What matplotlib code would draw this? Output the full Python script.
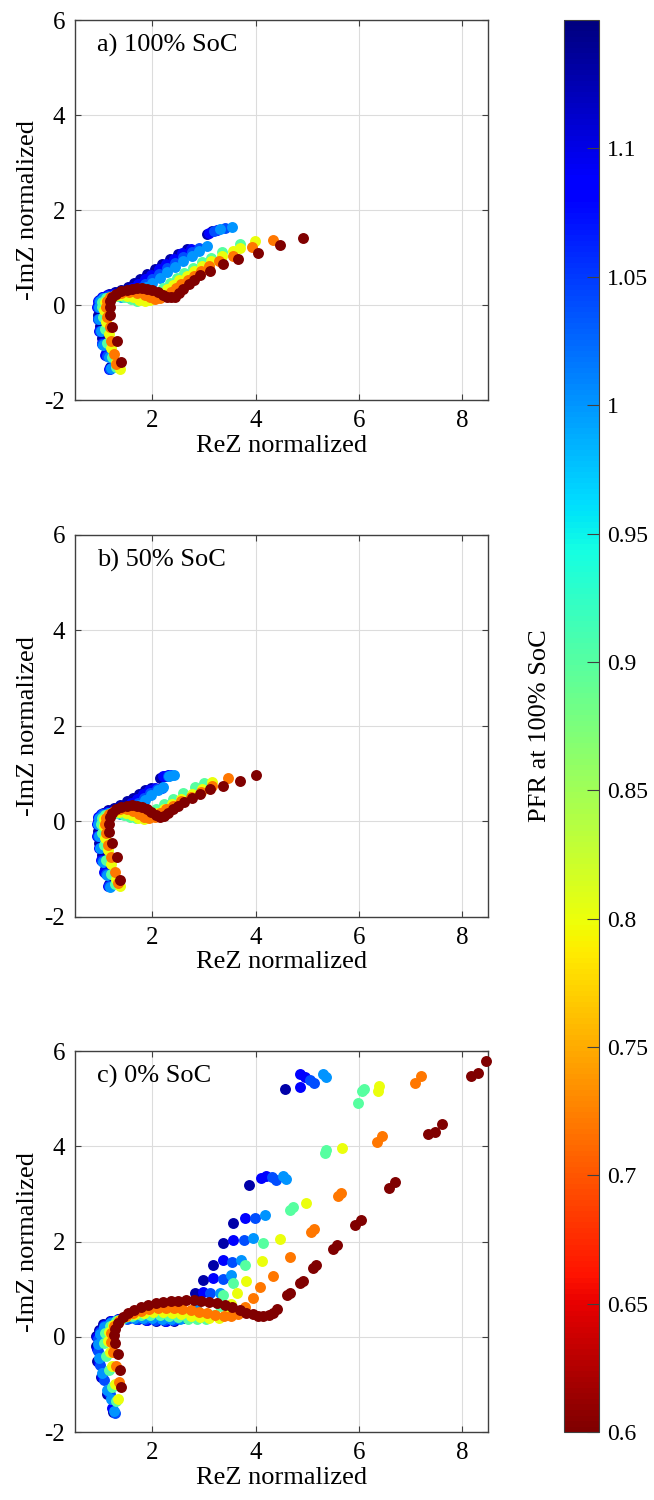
# Nyquist plots at three states of charge, coloured by PFR at 100% SoC
import numpy as np
import matplotlib
matplotlib.use("Agg")
import matplotlib.pyplot as plt
from matplotlib.colors import Normalize
from matplotlib.cm import ScalarMappable

plt.rcParams['font.family'] = ['Liberation Serif', 'DejaVu Serif']
plt.rcParams['axes.unicode_minus'] = False

# --------------------------------------------
# DATA  (ReZ normalized, -ImZ normalized)
# --------------------------------------------
pfr = [1.13, 1.08, 1.04, 1.00, 0.90, 0.80, 0.72, 0.60]
panel_titles = ["a) 100% SoC", "b) 50% SoC", "c) 0% SoC"]
cbar_ticks = [0.6, 0.65, 0.7, 0.75, 0.8, 0.85, 0.9, 0.95, 1.0, 1.05, 1.1]
cbar_labels = ["0.6", "0.65", "0.7", "0.75", "0.8", "0.85", "0.9", "0.95", "1", "1.05", "1.1"]

soc100 = [
    [(1.17,-1.30),(1.10,-1.00),(1.03,-0.70),(0.98,-0.45),(0.95,-0.20),(0.95,0.00),(0.97,0.10),(1.05,0.18),
     (1.16,0.24),(1.28,0.28),(1.40,0.32),(1.52,0.38),(1.64,0.46),(1.76,0.55),(1.90,0.65),(2.04,0.75),
     (2.18,0.86),(2.34,0.97),(2.50,1.08),(2.66,1.18),(3.05,1.50),(3.15,1.55)],
    [(1.15,-1.35),(1.08,-1.05),(1.02,-0.80),(0.97,-0.55),(0.94,-0.30),(0.93,-0.05),(0.95,0.09),(1.02,0.16),
     (1.12,0.21),(1.24,0.23),(1.36,0.24),(1.48,0.28),(1.60,0.35),(1.72,0.44),(1.85,0.54),(1.98,0.64),
     (2.12,0.75),(2.26,0.86),(2.42,0.98),(2.58,1.09),(2.74,1.19),(3.10,1.52),(3.25,1.57)],
    [(1.18,-1.34),(1.11,-1.08),(1.03,-0.82),(0.98,-0.55),(0.95,-0.30),(0.95,-0.05),(0.97,0.08),(1.04,0.15),
     (1.14,0.19),(1.26,0.21),(1.38,0.21),(1.50,0.23),(1.62,0.28),(1.74,0.36),(1.86,0.45),(1.99,0.55),
     (2.13,0.66),(2.28,0.77),(2.44,0.89),(2.60,1.01),(2.76,1.12),(2.90,1.20),(3.20,1.55),(3.40,1.62)],
    [(1.20,-1.33),(1.15,-1.10),(1.05,-0.85),(1.00,-0.55),(0.97,-0.30),(0.96,-0.05),(0.98,0.08),(1.05,0.14),
     (1.15,0.18),(1.27,0.19),(1.40,0.18),(1.52,0.17),(1.64,0.20),(1.76,0.28),(1.88,0.37),(2.00,0.47),
     (2.14,0.58),(2.28,0.69),(2.44,0.80),(2.60,0.92),(2.76,1.04),(2.90,1.14),(3.05,1.24),(3.30,1.60),(3.55,1.65)],
    [(1.30,-1.30),(1.22,-1.10),(1.12,-0.80),(1.08,-0.50),(1.04,-0.25),(1.02,-0.05),(1.03,0.07),(1.10,0.14),
     (1.20,0.18),(1.32,0.19),(1.45,0.17),(1.58,0.12),(1.70,0.09),(1.82,0.10),(1.94,0.16),(2.06,0.24),
     (2.20,0.35),(2.34,0.46),(2.48,0.57),(2.62,0.68),(2.78,0.79),(2.96,0.90),(3.14,1.00),(3.34,1.12),(3.69,1.28)],
    [(1.37,-1.34),(1.30,-1.20),(1.20,-0.90),(1.15,-0.60),(1.10,-0.35),(1.07,-0.10),(1.08,0.06),(1.15,0.14),
     (1.25,0.19),(1.38,0.21),(1.50,0.20),(1.62,0.16),(1.74,0.11),(1.86,0.08),(1.96,0.10),(2.06,0.16),
     (2.16,0.24),(2.28,0.33),(2.40,0.43),(2.52,0.52),(2.66,0.62),(2.80,0.72),(2.96,0.82),(3.14,0.93),
     (3.34,1.03),(3.56,1.13),(3.70,1.20),(3.98,1.35)],
    [(1.30,-1.25),(1.26,-1.03),(1.20,-0.75),(1.18,-0.47),(1.12,-0.25),(1.10,-0.05),(1.12,0.08),(1.18,0.16),
     (1.28,0.22),(1.40,0.26),(1.55,0.27),(1.70,0.26),(1.85,0.22),(1.95,0.17),(2.05,0.13),(2.15,0.14),
     (2.25,0.20),(2.35,0.28),(2.45,0.36),(2.56,0.44),(2.68,0.53),(2.80,0.62),(2.95,0.72),(3.10,0.82),
     (3.28,0.92),(3.56,1.03),(3.92,1.23),(4.34,1.38)],
    [(1.39,-1.20),(1.31,-0.75),(1.22,-0.47),(1.18,-0.21),(1.17,-0.05),(1.18,0.08),(1.22,0.17),(1.30,0.24),
     (1.40,0.29),(1.50,0.32),(1.60,0.34),(1.70,0.35),(1.80,0.35),(1.90,0.34),(2.00,0.31),(2.10,0.27),
     (2.20,0.22),(2.28,0.18),(2.36,0.16),(2.44,0.18),(2.52,0.26),(2.60,0.34),(2.70,0.44),(2.80,0.53),
     (2.92,0.63),(3.11,0.72),(3.36,0.86),(3.66,0.98),(4.05,1.10),(4.48,1.27),(4.92,1.42)],
]

soc50 = [
    [(1.16,-1.30),(1.09,-1.00),(1.02,-0.70),(0.97,-0.45),(0.94,-0.20),(0.94,0.00),(0.96,0.10),(1.04,0.18),
     (1.14,0.24),(1.26,0.29),(1.38,0.34),(1.50,0.42),(1.62,0.50),(1.74,0.58),(1.86,0.65),(1.98,0.70),
     (2.15,0.92),(2.25,0.96)],
    [(1.14,-1.36),(1.07,-1.05),(1.01,-0.80),(0.96,-0.55),(0.93,-0.30),(0.92,-0.05),(0.94,0.09),(1.01,0.16),
     (1.11,0.20),(1.23,0.22),(1.35,0.25),(1.46,0.31),(1.58,0.39),(1.70,0.48),(1.82,0.57),(1.94,0.65),
     (2.05,0.70),(2.20,0.95),(2.30,0.97)],
    [(1.16,-1.36),(1.10,-1.10),(1.03,-0.82),(0.98,-0.55),(0.95,-0.30),(0.94,-0.05),(0.96,0.08),(1.03,0.15),
     (1.13,0.18),(1.25,0.20),(1.37,0.20),(1.48,0.23),(1.60,0.30),(1.72,0.39),(1.84,0.49),(1.96,0.59),
     (2.08,0.67),(2.18,0.70),(2.30,0.95),(2.36,0.98)],
    [(1.18,-1.37),(1.12,-1.12),(1.04,-0.85),(0.99,-0.55),(0.96,-0.30),(0.95,-0.05),(0.97,0.08),(1.04,0.14),
     (1.14,0.17),(1.26,0.17),(1.38,0.16),(1.50,0.18),(1.62,0.25),(1.74,0.34),(1.86,0.44),(1.98,0.55),
     (2.10,0.66),(2.20,0.72),(2.32,0.96),(2.42,0.98)],
    [(1.28,-1.30),(1.20,-1.10),(1.10,-0.80),(1.06,-0.50),(1.03,-0.25),(1.01,-0.05),(1.02,0.07),(1.09,0.14),
     (1.19,0.17),(1.31,0.17),(1.44,0.14),(1.56,0.09),(1.68,0.07),(1.80,0.10),(1.92,0.17),(2.06,0.26),
     (2.22,0.37),(2.40,0.48),(2.60,0.60),(2.82,0.72),(3.00,0.80)],
    [(1.37,-1.35),(1.30,-1.20),(1.20,-0.90),(1.14,-0.60),(1.09,-0.35),(1.06,-0.10),(1.07,0.06),(1.14,0.14),
     (1.24,0.19),(1.36,0.20),(1.48,0.18),(1.60,0.13),(1.72,0.08),(1.84,0.06),(1.96,0.10),(2.08,0.17),
     (2.22,0.26),(2.38,0.36),(2.56,0.46),(2.76,0.57),(2.96,0.68),(3.15,0.82)],
    [(1.34,-1.28),(1.27,-1.05),(1.20,-0.75),(1.14,-0.50),(1.10,-0.25),(1.08,-0.05),(1.10,0.08),(1.16,0.16),
     (1.26,0.22),(1.38,0.25),(1.50,0.25),(1.62,0.22),(1.74,0.16),(1.84,0.10),(1.94,0.07),(2.04,0.10),
     (2.14,0.17),(2.26,0.25),(2.40,0.33),(2.56,0.42),(2.74,0.52),(2.94,0.62),(3.16,0.74),(3.47,0.90)],
    [(1.37,-1.23),(1.31,-0.74),(1.21,-0.46),(1.16,-0.22),(1.15,-0.05),(1.17,0.09),(1.22,0.18),(1.30,0.25),
     (1.40,0.30),(1.50,0.33),(1.60,0.34),(1.70,0.33),(1.80,0.30),(1.90,0.25),(1.98,0.19),(2.06,0.13),
     (2.14,0.10),(2.22,0.12),(2.30,0.18),(2.40,0.26),(2.50,0.33),(2.62,0.40),(2.76,0.49),(2.92,0.58),
     (3.11,0.67),(3.36,0.75),(3.69,0.85),(4.00,0.97)],
]

soc0 = [
    [(1.24,-1.58),(1.12,-1.20),(1.00,-0.85),(0.93,-0.50),(0.90,-0.20),(0.91,0.02),(0.96,0.15),(1.05,0.26),
     (1.18,0.34),(1.34,0.38),(1.52,0.39),(1.70,0.38),(1.88,0.36),(2.06,0.34),(2.24,0.33),(2.42,0.34),
     (2.60,0.40),(2.82,0.91),(2.98,1.19),(3.18,1.51),(3.37,1.96),(3.56,2.40),(3.87,3.19),(4.56,5.21)],
    [(1.22,-1.50),(1.14,-1.15),(1.03,-0.85),(0.96,-0.55),(0.92,-0.25),(0.93,0.00),(0.98,0.13),(1.07,0.24),
     (1.20,0.33),(1.36,0.38),(1.54,0.39),(1.72,0.38),(1.90,0.36),(2.08,0.35),(2.26,0.34),(2.42,0.35),
     (2.58,0.42),(2.98,0.95),(3.18,1.23),(3.37,1.61),(3.56,2.04),(3.79,2.49),(4.11,3.33),(4.20,3.38),
     (4.85,5.25),(4.85,5.51),(4.95,5.45)],
    [(1.28,-1.60),(1.18,-1.20),(1.06,-0.90),(0.98,-0.60),(0.94,-0.30),(0.94,-0.05),(0.98,0.10),(1.07,0.22),
     (1.19,0.31),(1.34,0.36),(1.50,0.38),(1.68,0.38),(1.86,0.37),(2.04,0.36),(2.22,0.35),(2.40,0.36),
     (2.56,0.40),(2.70,0.52),(3.12,0.92),(3.36,1.22),(3.55,1.58),(3.77,2.04),(3.98,2.50),(4.32,3.35),
     (4.40,3.30),(5.05,5.39),(5.12,5.32)],
    [(1.25,-1.55),(1.20,-1.30),(1.11,-1.12),(1.02,-0.75),(0.97,-0.45),(0.95,-0.15),(0.98,0.06),(1.06,0.20),
     (1.17,0.30),(1.31,0.36),(1.47,0.39),(1.64,0.40),(1.82,0.40),(2.00,0.39),(2.18,0.38),(2.36,0.37),
     (2.54,0.38),(2.70,0.44),(2.84,0.60),(3.30,0.92),(3.53,1.30),(3.72,1.61),(3.95,2.07),(4.18,2.56),
     (4.53,3.37),(4.58,3.32),(5.31,5.51),(5.36,5.45)],
    [(1.30,-1.35),(1.22,-1.05),(1.15,-0.70),(1.10,-0.40),(1.07,-0.12),(1.09,0.08),(1.17,0.22),(1.29,0.33),
     (1.43,0.40),(1.60,0.44),(1.78,0.46),(1.96,0.46),(2.14,0.45),(2.32,0.43),(2.50,0.41),(2.68,0.38),
     (2.86,0.37),(3.04,0.38),(3.20,0.45),(3.30,0.65),(3.37,0.88),(3.56,1.12),(3.79,1.51),(4.14,1.96),
     (4.66,2.67),(4.72,2.72),(5.34,3.86),(5.37,3.93),(5.98,4.91),(6.05,5.16),(6.10,5.20)],
    [(1.33,-1.30),(1.28,-1.00),(1.22,-0.62),(1.17,-0.32),(1.14,-0.08),(1.16,0.10),(1.24,0.24),(1.36,0.35),
     (1.50,0.43),(1.66,0.48),(1.84,0.51),(2.02,0.52),(2.20,0.52),(2.38,0.50),(2.56,0.47),(2.74,0.44),
     (2.92,0.41),(3.10,0.39),(3.28,0.39),(3.45,0.45),(3.52,0.68),(3.63,0.91),(3.82,1.18),(4.13,1.60),
     (4.47,2.05),(4.98,2.81),(5.68,3.96),(6.37,5.16),(6.39,5.26)],
    [(1.35,-0.95),(1.30,-0.62),(1.24,-0.32),(1.20,-0.10),(1.20,0.08),(1.26,0.22),(1.36,0.34),(1.48,0.43),
     (1.62,0.50),(1.78,0.55),(1.94,0.58),(2.10,0.60),(2.26,0.61),(2.42,0.60),(2.58,0.58),(2.74,0.56),
     (2.90,0.52),(3.06,0.49),(3.22,0.46),(3.38,0.44),(3.52,0.44),(3.66,0.47),(3.79,0.63),(3.95,0.81),
     (4.08,1.05),(4.34,1.28),(4.66,1.68),(5.08,2.21),(5.13,2.26),(5.60,2.95),(5.66,3.02),(6.34,4.10),
     (6.44,4.21),(7.08,5.33),(7.20,5.47)],
    [(1.40,-1.05),(1.37,-0.70),(1.33,-0.36),(1.27,-0.14),(1.25,0.03),(1.28,0.17),(1.34,0.30),(1.42,0.41),
     (1.52,0.49),(1.64,0.56),(1.78,0.62),(1.92,0.67),(2.06,0.70),(2.20,0.73),(2.35,0.75),(2.50,0.76),
     (2.65,0.77),(2.80,0.77),(2.95,0.76),(3.10,0.74),(3.25,0.71),(3.40,0.67),(3.55,0.62),(3.70,0.56),
     (3.82,0.51),(3.94,0.47),(4.05,0.44),(4.15,0.43),(4.25,0.45),(4.34,0.50),(4.42,0.58),(4.60,0.88),
     (4.67,0.93),(4.85,1.12),(4.92,1.17),(5.11,1.44),(5.16,1.50),(5.50,1.85),(5.58,1.93),(5.92,2.35),
     (6.03,2.45),(6.58,3.12),(6.70,3.26),(7.34,4.25),(7.48,4.30),(7.60,4.47),(8.18,5.47),(8.31,5.54),
     (8.47,5.79)],
]

# --------------------------------------------
# FIGURE
# --------------------------------------------
cmap = plt.get_cmap('jet_r')
norm = Normalize(vmin=0.6, vmax=1.15)
edge = '#404040'

fig = plt.figure(figsize=(6.54, 15), dpi=100)
positions = [[0.1147, 0.7333, 0.6315, 0.2533],
             [0.1147, 0.3887, 0.6315, 0.2547],
             [0.1147, 0.0453, 0.6315, 0.2540]]

for pos, title, panel in zip(positions, panel_titles, [soc100, soc50, soc0]):
    ax = fig.add_axes(pos)
    for value, pts in zip(pfr, panel):
        pts = np.array(pts)
        ax.scatter(pts[:, 0], pts[:, 1], s=62, c=[cmap(norm(value))],
                   linewidths=0, clip_on=False, zorder=3)
    ax.set_xlim(0.5, 8.5)
    ax.set_ylim(-2, 6)
    ax.set_xticks([2, 4, 6, 8])
    ax.set_yticks([-2, 0, 2, 4, 6])
    ax.grid(True, color='#dcdcdc', linewidth=0.8)
    ax.set_axisbelow(True)
    ax.tick_params(direction='in', top=True, right=True, length=4,
                   width=0.8, color=edge, labelsize=18, pad=7)
    for sp in ax.spines.values():
        sp.set_color(edge)
        sp.set_linewidth(1.0)
    ax.set_xlabel("ReZ normalized", fontsize=19, labelpad=2)
    ax.set_ylabel("-ImZ normalized", fontsize=19, labelpad=4)
    ax.text(0.053, 0.934, title, transform=ax.transAxes, fontsize=19,
            ha='left', va='center')

# Colorbar
cax = fig.add_axes([0.8624, 0.0453, 0.0535, 0.9413])
cb = fig.colorbar(ScalarMappable(norm=norm, cmap=cmap), cax=cax, ticks=cbar_ticks)
cb.ax.set_yticklabels(cbar_labels)
cb.outline.set_edgecolor(edge)
cb.outline.set_linewidth(0.8)
cax.tick_params(direction='in', length=9, width=0.8, color=edge, labelsize=17, pad=6)
cax.text(-0.69, 0.5, "PFR at 100% SoC", transform=cax.transAxes, rotation=90,
         fontsize=19, ha='center', va='center')

plt.savefig("out.png", dpi=100)
